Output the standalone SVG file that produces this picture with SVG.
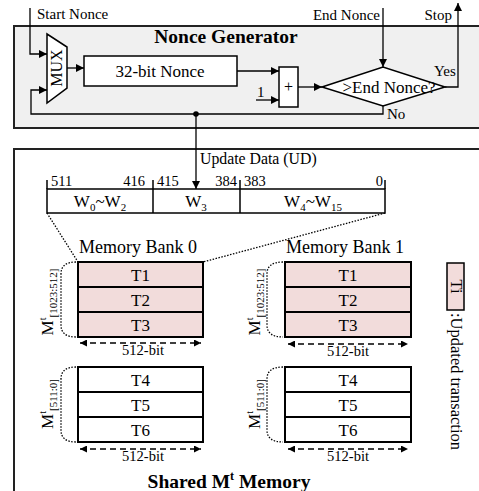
<svg xmlns="http://www.w3.org/2000/svg" width="479" height="491" viewBox="0 0 479 491">
<defs>
<marker id="ah" viewBox="0 0 10 10" refX="10" refY="5" markerWidth="9" markerHeight="8" markerUnits="userSpaceOnUse" orient="auto-start-reverse"><path d="M0,0 L10,5 L0,10 z" fill="#000"/></marker>
<marker id="ah2" viewBox="0 0 10 10" refX="10" refY="5" markerWidth="10" markerHeight="7" markerUnits="userSpaceOnUse" orient="auto-start-reverse"><path d="M0,0 L10,5 L0,10 z" fill="#000"/></marker>
</defs>
<style>
text{font-family:"Liberation Serif","Times New Roman",serif;fill:#000}
.t15{font-size:15px}
.t17{font-size:17px}
.b{font-weight:bold}
.ln{fill:none;stroke:#000;stroke-width:1.3}
.box{fill:#fff;stroke:#000;stroke-width:1.5}
.pink{fill:#f2dcdb;stroke:#000;stroke-width:2}
.row{fill:#fff;stroke:#000;stroke-width:2}
.dot{fill:none;stroke:#000;stroke-width:1.3;stroke-dasharray:1.5 1.5}
.dash{fill:none;stroke:#000;stroke-width:1.3;stroke-dasharray:6 4}
.mid{text-anchor:middle}
.end{text-anchor:end}
</style>

<g id="nonce-generator-panel">
<rect x="14" y="26" width="480" height="102" fill="#f0f0f0" stroke="#222" stroke-width="2"/>
<text x="226" y="43" class="mid b" font-size="19.5">Nonce Generator</text>
</g>
<g id="shared-memory-panel">
<rect x="14" y="149" width="480" height="360" fill="#fff" stroke="#222" stroke-width="2"/>
<text x="229" y="488" class="mid b" font-size="19.5">Shared M<tspan dy="-8" font-size="12">t</tspan><tspan dy="8"> Memory</tspan></text>
</g>

<g id="connectors">
<polyline class="ln" points="30,8 30,54 47,54" marker-end="url(#ah)"/>
<polyline class="ln" points="383,106 383,114 31,114 31,90 47,90" marker-end="url(#ah)"/>
<line class="ln" x1="67" y1="68" x2="84" y2="68" marker-end="url(#ah)"/>
<line class="ln" x1="237" y1="71" x2="279" y2="71" marker-end="url(#ah)"/>
<line class="ln" x1="256" y1="100" x2="279" y2="100" marker-end="url(#ah)"/>
<line class="ln" x1="298" y1="87" x2="322" y2="87" marker-end="url(#ah)"/>
<line class="ln" x1="383" y1="8" x2="383" y2="67" marker-end="url(#ah)"/>
<polyline class="ln" points="445,87 458,87 458,3" marker-end="url(#ah)"/>
<circle cx="196" cy="114" r="2.8" fill="#000"/>
<line class="ln" x1="196" y1="114" x2="196" y2="189" marker-end="url(#ah)"/>
<line class="dot" x1="47" y1="213" x2="78" y2="262"/>
<line class="dot" x1="385" y1="213" x2="203" y2="262"/>
</g>

<g id="labels-io">
<text x="37" y="19" class="t15">Start Nonce</text>
<text x="380" y="20" class="t15 end">End Nonce</text>
<text x="452" y="20" class="t15 end">Stop</text>
<text x="434" y="76" class="t15">Yes</text>
<text x="387" y="119" class="t15">No</text>
<text x="257" y="97" class="t15">1</text>
</g>

<g id="mux">
<polygon points="47,34 67,47 67,88 47,103" fill="#fff" stroke="#000" stroke-width="1.5"/>
<text transform="translate(62,68) rotate(-90)" class="mid" font-size="16">MUX</text>
</g>

<g id="nonce-register">
<rect x="84" y="56" width="153" height="30" class="box"/>
<text x="160" y="77" class="mid t17">32-bit Nonce</text>
</g>

<g id="adder">
<rect x="279" y="67" width="19" height="40" class="box"/>
<text x="288.5" y="92" class="mid" font-size="16">+</text>
</g>

<g id="comparator">
<polygon points="322,87 383,67 445,87 383,106" class="box"/>
<text x="389" y="93" class="mid t17">&gt;End Nonce?</text>
</g>

<g id="update-data">
<text x="200" y="164" font-size="15.8">Update Data (UD)</text>
<rect x="47" y="189" width="338" height="24" class="box"/>
<line x1="153" y1="180" x2="153" y2="213" stroke="#000" stroke-width="1.5"/>
<line x1="240" y1="180" x2="240" y2="213" stroke="#000" stroke-width="1.5"/>
<line x1="47" y1="180" x2="47" y2="189" stroke="#000" stroke-width="1.5"/>
<line x1="385" y1="180" x2="385" y2="189" stroke="#000" stroke-width="1.5"/>
<g font-size="14.5">
<text x="51" y="186">511</text>
<text x="145" y="186" class="end">416</text>
<text x="157" y="186">415</text>
<text x="237" y="186" class="end">384</text>
<text x="244" y="186">383</text>
<text x="383" y="186" class="end">0</text>
</g>
<text x="100" y="207" class="mid t17">W<tspan font-size="11" dy="4">0</tspan><tspan dy="-4">~W</tspan><tspan font-size="11" dy="4">2</tspan></text>
<text x="196" y="207" class="mid t17">W<tspan font-size="11" dy="4">3</tspan></text>
<text x="313" y="207" class="mid t17">W<tspan font-size="11" dy="4">4</tspan><tspan dy="-4">~W</tspan><tspan font-size="11" dy="4">15</tspan></text>
</g>

<g id="memory-bank-0">
<text x="138" y="253" class="mid" font-size="18">Memory Bank 0</text>
<rect x="78" y="262" width="125" height="25" class="pink"/>
<rect x="78" y="287" width="125" height="25" class="pink"/>
<rect x="78" y="312" width="125" height="25" class="pink"/>
<text x="140.5" y="281" class="mid t17">T1</text>
<text x="140.5" y="306" class="mid t17">T2</text>
<text x="140.5" y="331" class="mid t17">T3</text>
<path class="dot" d="M76,262 Q61,262 61,274 L61,325 Q61,337 76,337"/>
<text transform="translate(53,302) rotate(-90)" class="mid" font-size="17">M<tspan font-size="10" dy="-7">t</tspan><tspan font-size="11" dy="11">[1023:512]</tspan></text>
<line class="dash" x1="80" y1="343" x2="201" y2="343" marker-start="url(#ah2)" marker-end="url(#ah2)"/>
<text x="143" y="355" class="mid" font-size="14.5">512-bit</text>

<rect x="78" y="367" width="125" height="25" class="row"/>
<rect x="78" y="392" width="125" height="25" class="row"/>
<rect x="78" y="417" width="125" height="25" class="row"/>
<text x="140.5" y="386" class="mid t17">T4</text>
<text x="140.5" y="411" class="mid t17">T5</text>
<text x="140.5" y="436" class="mid t17">T6</text>
<path class="dot" d="M76,367 Q61,367 61,379 L61,430 Q61,442 76,442"/>
<text transform="translate(53,404) rotate(-90)" class="mid" font-size="17">M<tspan font-size="10" dy="-7">t</tspan><tspan font-size="11" dy="11">[511:0]</tspan></text>
<line class="dash" x1="80" y1="449" x2="201" y2="449" marker-start="url(#ah2)" marker-end="url(#ah2)"/>
<text x="143" y="461" class="mid" font-size="14.5">512-bit</text>
</g>

<g id="memory-bank-1">
<text x="345" y="253" class="mid" font-size="18">Memory Bank 1</text>
<rect x="285" y="262" width="126" height="25" class="pink"/>
<rect x="285" y="287" width="126" height="25" class="pink"/>
<rect x="285" y="312" width="126" height="25" class="pink"/>
<text x="348" y="281" class="mid t17">T1</text>
<text x="348" y="306" class="mid t17">T2</text>
<text x="348" y="331" class="mid t17">T3</text>
<path class="dot" d="M283,262 Q267,262 267,274 L267,325 Q267,337 283,337"/>
<text transform="translate(260,302) rotate(-90)" class="mid" font-size="17">M<tspan font-size="10" dy="-7">t</tspan><tspan font-size="11" dy="11">[1023:512]</tspan></text>
<line class="dash" x1="288" y1="344" x2="408" y2="344" marker-start="url(#ah2)" marker-end="url(#ah2)"/>
<text x="348" y="356" class="mid" font-size="14.5">512-bit</text>

<rect x="285" y="367" width="126" height="25" class="row"/>
<rect x="285" y="392" width="126" height="25" class="row"/>
<rect x="285" y="417" width="126" height="25" class="row"/>
<text x="348" y="386" class="mid t17">T4</text>
<text x="348" y="411" class="mid t17">T5</text>
<text x="348" y="436" class="mid t17">T6</text>
<path class="dot" d="M283,367 Q267,367 267,379 L267,430 Q267,442 283,442"/>
<text transform="translate(260,404) rotate(-90)" class="mid" font-size="17">M<tspan font-size="10" dy="-7">t</tspan><tspan font-size="11" dy="11">[511:0]</tspan></text>
<line class="dash" x1="288" y1="449" x2="408" y2="449" marker-start="url(#ah2)" marker-end="url(#ah2)"/>
<text x="348" y="461" class="mid" font-size="14.5">512-bit</text>
</g>

<g id="legend">
<rect x="447" y="263" width="17" height="47" fill="#f2dcdb" stroke="#000" stroke-width="1.5"/>
<text transform="translate(451,286.5) rotate(90)" class="mid" font-size="16.5">Ti</text>
<text transform="translate(451,313) rotate(90)" font-size="16.5">:Updated transaction</text>
</g>
</svg>
